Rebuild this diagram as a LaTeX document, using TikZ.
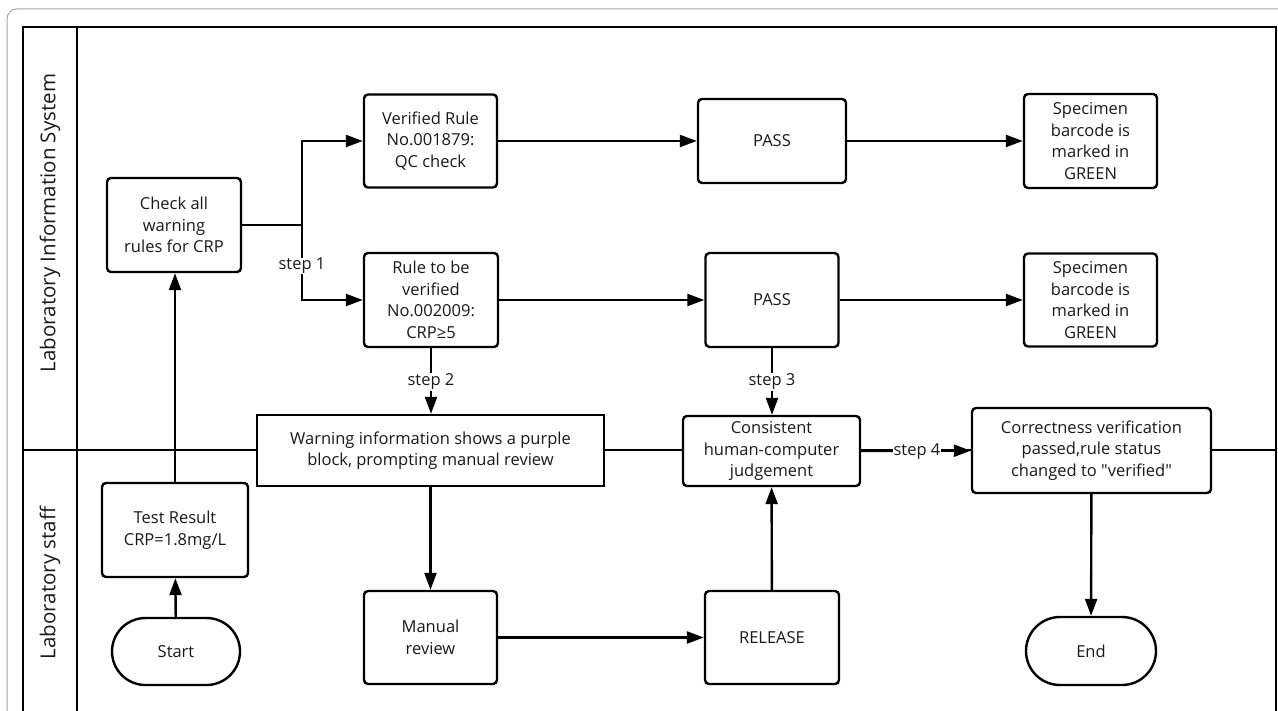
\documentclass[tikz,border=0pt]{standalone}
\usepackage{fontspec}
\setmainfont{Open Sans}[Ligatures=TeXOff]
\usetikzlibrary{arrows.meta,shapes.misc}
\begin{document}
\begin{tikzpicture}[x=1pt,y=-1pt,
  txt/.style={font=\fontsize{16.5}{21.5}\selectfont, text=black!90},
  box/.style={txt, draw, line width=2.4pt, rounded corners=4pt, fill=white,
    align=center, inner sep=2pt},
  sqbox/.style={box, rounded corners=0pt},
  term/.style={txt, draw, line width=2.4pt, fill=white, rounded rectangle,
    inner sep=2pt},
  arr/.style={line width=2.4pt, -{Triangle[length=17pt,width=12pt]}},
  conn/.style={line width=2.4pt},
  frame/.style={line width=2.2pt},
  steplbl/.style={txt, fill=white, inner sep=0.6pt},
  lanelbl/.style={rotate=90, font=\fontsize{20.5}{24}\selectfont, text=black!90}
]
\useasboundingbox (0,0) rectangle (1278,711);
\fill[white] (0,0) rectangle (1278,711);
\clip (0,0) rectangle (1278,711);

% outer page border
\draw[gray!70, line width=1pt, rounded corners=10pt] (7,740) -- (7,9) -- (1300,9);

% swimlane pool
\draw[frame] (23,740) -- (23,27) -- (1276,27) -- (1276,740);
\draw[frame] (77,27) -- (77,740);
\draw[frame] (23,450) -- (1276,450);
\node[lanelbl] (laneLIS) at (50,223) {Laboratory Information System};
\node[lanelbl] (laneStaff) at (50,583) {Laboratory staff};

% nodes
\node[term, minimum width=132pt, minimum height=67pt] (start) at (176,651.5) {Start};
\node[box, minimum width=146pt, minimum height=94pt] (test) at (175,530) {Test Result\\CRP=1.8mg/L};
\node[box, minimum width=134pt, minimum height=94pt] (check) at (174,225) {Check all\\warning\\rules for CRP};
\node[box, minimum width=133pt, minimum height=93pt] (verified) at (430.5,141) {Verified Rule\\No.001879:\\QC check};
\node[box, minimum width=148pt, minimum height=84pt] (pass1) at (772,141) {PASS};
\node[box, minimum width=133pt, minimum height=94pt] (spec1) at (1090.5,141) {Specimen\\barcode is\\marked in\\GREEN};
\node[box, minimum width=134pt, minimum height=94pt] (rule) at (431,300) {Rule to be\\verified\\No.002009:\\CRP≥5};
\node[box, minimum width=133pt, minimum height=94pt] (pass2) at (772,300) {PASS};
\node[box, minimum width=133pt, minimum height=93pt] (spec2) at (1090.5,300) {Specimen\\barcode is\\marked in\\GREEN};
\node[sqbox, minimum width=347pt, minimum height=71pt] (warn) at (430.5,450.5) {Warning information shows a purple\\block, prompting manual review};
\node[box, minimum width=177pt, minimum height=70pt] (cons) at (771.5,451) {Consistent\\human-computer\\judgement};
\node[box, minimum width=239pt, minimum height=85pt] (correct) at (1091.5,450.5) {Correctness verification\\passed,rule status\\changed to "verified"};
\node[box, minimum width=133pt, minimum height=93pt] (manual) at (430.5,637.5) {Manual\\review};
\node[box, minimum width=134pt, minimum height=93pt] (release) at (772,637.5) {RELEASE};
\node[term, minimum width=134pt, minimum height=68pt] (end) at (1091,651) {End};

% connectors
\draw[arr] (start) -- (test);
\draw[arr] (test.north) -- (test.north |- check.south);
\coordinate (split) at (302,225);
\draw[conn] (check.east) -- (split);
\draw[arr] (split) |- (verified.west);
\draw[arr] (split) |- (rule.west);
\node[steplbl] (s1) at (302,266) {step 1};
\draw[arr] (verified) -- (pass1);
\draw[arr] (pass1) -- (spec1);
\draw[arr] (rule) -- (pass2);
\draw[arr] (pass2) -- (spec2);
\draw[arr] (rule.south) -- (rule.south |- warn.north);
\node[steplbl] (s2) at (431,382) {step 2};
\draw[arr] (pass2.south) -- (pass2.south |- cons.north);
\node[steplbl] (s3) at (772,382) {step 3};
\draw[arr] (warn.south) -- (warn.south |- manual.north);
\draw[arr] (manual) -- (release);
\draw[arr] (release) -- (cons);
\draw[arr] (cons) -- (correct);
\node[steplbl] (s4) at (917,452) {step 4};
\draw[arr] (correct) -- (end);
\end{tikzpicture}
\end{document}
